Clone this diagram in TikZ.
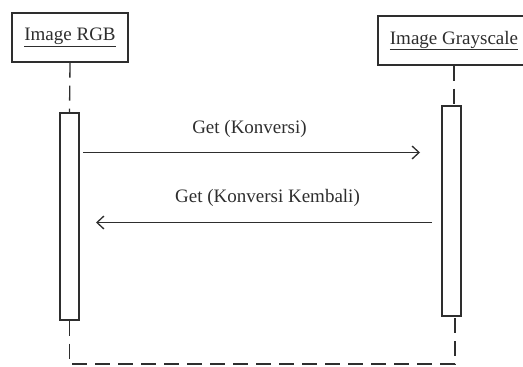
\documentclass[tikz,border=0pt]{standalone}
\usepackage{fontspec}
\setmainfont{Liberation Serif}
\usetikzlibrary{arrows.meta}
\definecolor{ink}{HTML}{2E2E2E}
\begin{document}
\begin{tikzpicture}[x=1pt,y=-1pt,
  obj/.style={draw=ink, line width=1.3pt, fill=white, inner sep=0pt, text=ink, font=\fontsize{19}{22}\selectfont},
  act/.style={draw=ink, line width=1.3pt, fill=white, inner sep=0pt, minimum width=19pt},
  life/.style={draw=ink, line width=1.3pt, dash pattern=on 15pt off 8pt},
  msg/.style={draw=ink, line width=1.3pt, -{Straight Barb[length=7pt,width=13pt,line width=1.3pt]}},
  lbl/.style={text=ink, inner sep=0pt, font=\fontsize{19}{22}\selectfont}]
\useasboundingbox (0,0) rectangle (523,367);
\clip (0,0) rectangle (523,367);
% objects
\node[obj, minimum width=116pt, minimum height=49pt] (rgb) at (70,37.5) {\underline{Image RGB}};
\node[obj, minimum width=152pt, minimum height=49pt] (gray) at (454,40.5) {\underline{Image Grayscale}};
% activations
\node[act, minimum height=207pt] (actL) at (69.5,216.5) {};
\node[act, minimum height=210pt] (actR) at (451.5,211) {};
% lifelines
\draw[life] (rgb.south) -- (actL.north);
\draw[life] (gray.south) -- (gray.south |- actR.north);
\coordinate (bl) at (69.5,364);
\coordinate (br) at (455,364);
\draw[life] (actL.south) -- (bl) -- (br) -- (br |- actR.south);
% messages
\coordinate (m1s) at (83,152.5);
\coordinate (m1e) at (420,152.5);
\coordinate (m2s) at (432,222.5);
\coordinate (m2e) at (96,222.5);
\draw[msg] (m1s) -- (m1e);
\draw[msg] (m2s) -- (m2e);
\node[lbl] (l1) at (249.5,129) {Get (Konversi)};
\node[lbl] (l2) at (267.5,198) {Get (Konversi Kembali)};
\end{tikzpicture}
\end{document}
